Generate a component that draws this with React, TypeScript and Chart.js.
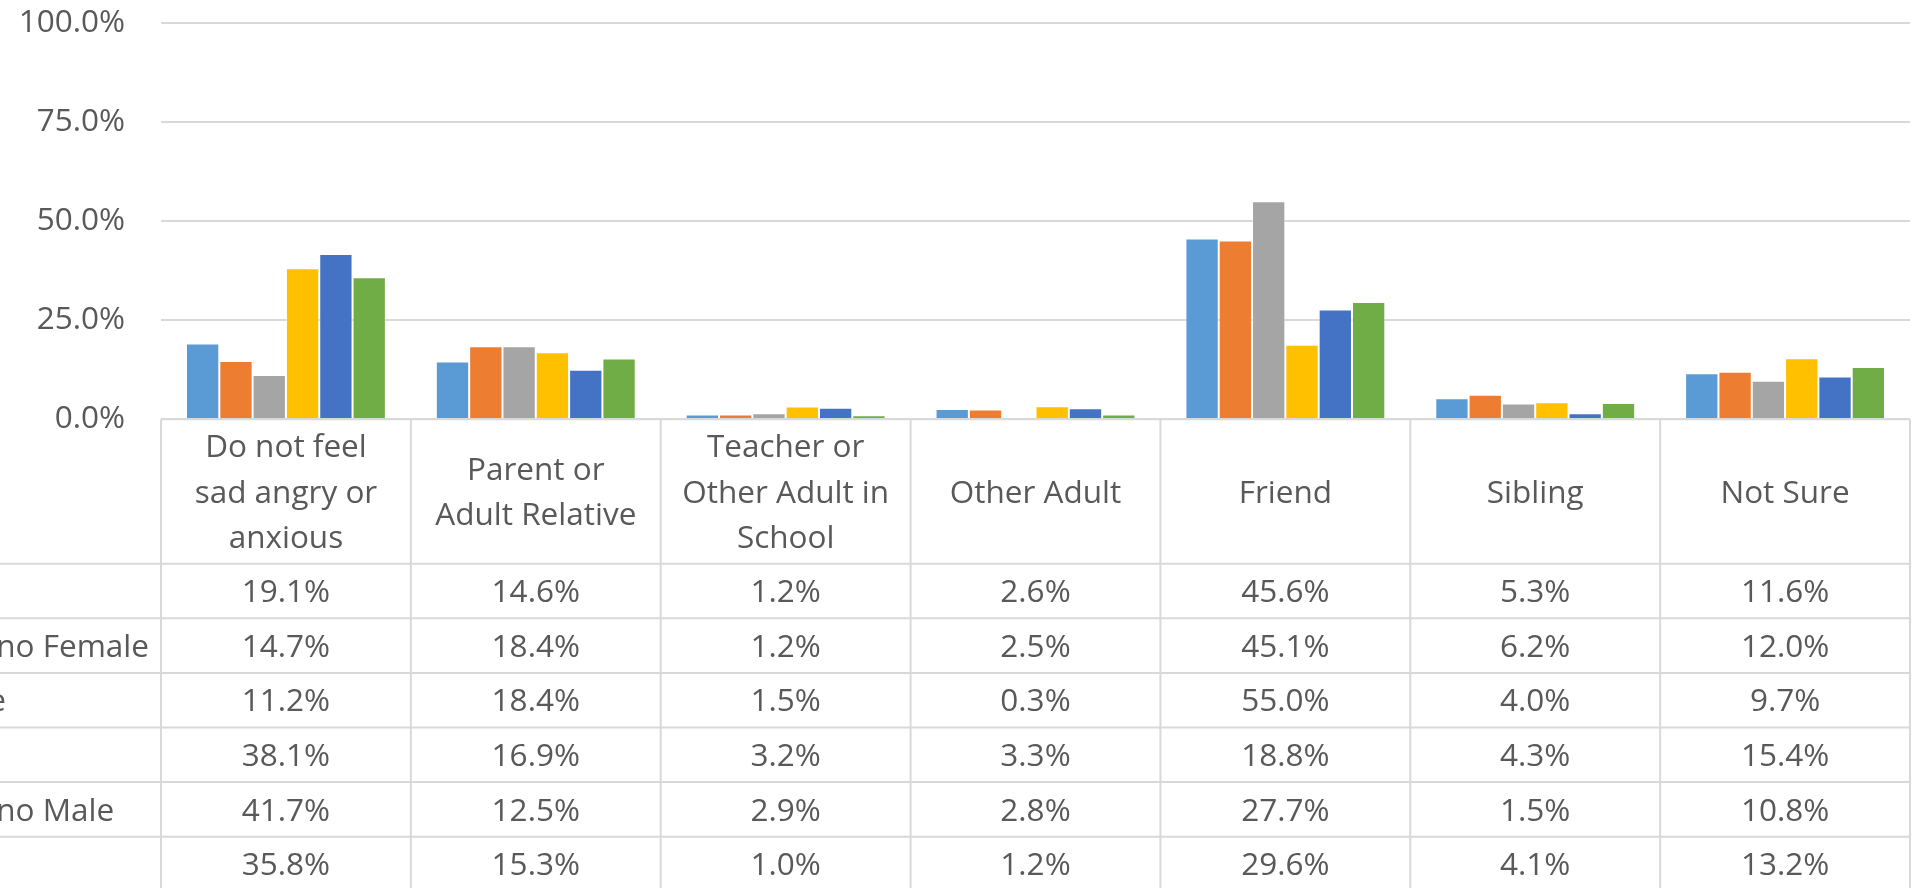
import React, { useEffect, useRef } from "react";
import { Chart, registerables } from "chart.js";

Chart.register(...registerables);

const categories: string[][] = [
  ["Do not feel", "sad angry or", "anxious"],
  ["Parent or", "Adult Relative"],
  ["Teacher or", "Other Adult in", "School"],
  ["Other Adult"],
  ["Friend"],
  ["Sibling"],
  ["Not Sure"],
];

const seriesNames = [
  "Black Female",
  "Hispanic/Latino Female",
  "White Female",
  "Black Male",
  "Hispanic/Latino Male",
  "White Male",
];

const blackFemale = [19.1, 14.6, 1.2, 2.6, 45.6, 5.3, 11.6];
const hispanicFemale = [14.7, 18.4, 1.2, 2.5, 45.1, 6.2, 12.0];
const whiteFemale = [11.2, 18.4, 1.5, 0.3, 55.0, 4.0, 9.7];
const blackMale = [38.1, 16.9, 3.2, 3.3, 18.8, 4.3, 15.4];
const hispanicMale = [41.7, 12.5, 2.9, 2.8, 27.7, 1.5, 10.8];
const whiteMale = [35.8, 15.3, 1.0, 1.2, 29.6, 4.1, 13.2];

const seriesValues = [blackFemale, hispanicFemale, whiteFemale, blackMale, hispanicMale, whiteMale];
const seriesColors = ["#5B9BD5", "#ED7D31", "#A5A5A5", "#FFC000", "#4472C4", "#70AD47"];

const yMin = 0;
const yMax = 100;
const yStep = 25;

const FONT_FAMILY = "'Open Sans', sans-serif";
const FONT_SIZE = 31.5;
const TEXT_COLOR = "#595959";
const LINE_COLOR = "#d9d9d9";
const HEADER_H = 144.4;
const ROW_H = 54.6;
const LINE_H = 45.5;

const fmt = (v: number) => v.toFixed(1) + "%";

const tablePlugin = {
  id: "dataTable",
  afterDraw(chart: any) {
    const { ctx, chartArea } = chart;
    const { left, right, bottom } = chartArea;
    const xs = chart.scales.x;
    const n = categories.length;
    const colW = (right - left) / n;
    const H = chart.height;
    const capH = 0.714 * FONT_SIZE;

    ctx.save();
    ctx.strokeStyle = LINE_COLOR;
    ctx.lineWidth = 2;
    ctx.beginPath();
    ctx.moveTo(left, bottom);
    ctx.lineTo(right, bottom);
    ctx.stroke();
    for (let r = 0; r <= seriesNames.length; r++) {
      const y = bottom + HEADER_H + r * ROW_H;
      ctx.beginPath();
      ctx.moveTo(0, y);
      ctx.lineTo(right, y);
      ctx.stroke();
    }
    for (let i = 0; i <= n; i++) {
      const x = left + i * colW;
      ctx.beginPath();
      ctx.moveTo(x, bottom);
      ctx.lineTo(x, H);
      ctx.stroke();
    }

    ctx.fillStyle = TEXT_COLOR;
    ctx.font = `${FONT_SIZE}px ${FONT_FAMILY}`;
    ctx.textBaseline = "alphabetic";
    ctx.textAlign = "center";

    const yc = bottom + HEADER_H / 2;
    categories.forEach((lines, i) => {
      const cx = xs.getPixelForValue(i);
      const m = lines.length;
      lines.forEach((line, j) => {
        const y = yc + (j - (m - 1) / 2) * LINE_H + capH / 2;
        ctx.fillText(line, cx, y);
      });
    });

    seriesValues.forEach((vals, r) => {
      const y = bottom + HEADER_H + r * ROW_H + ROW_H / 2 + capH / 2;
      vals.forEach((v, i) => {
        ctx.fillText(fmt(v), xs.getPixelForValue(i), y);
      });
    });

    ctx.textAlign = "left";
    const maxW = Math.max(...seriesNames.map((s) => ctx.measureText(s).width));
    const x0 = left - 12 - maxW;
    seriesNames.forEach((name, r) => {
      const y = bottom + HEADER_H + r * ROW_H + ROW_H / 2 + capH / 2;
      ctx.fillText(name, x0, y);
    });
    ctx.restore();
  },
};

export default function App() {
  const ref = useRef<HTMLCanvasElement | null>(null);

  useEffect(() => {
    if (!ref.current) return;
    const chart = new Chart(ref.current, {
      type: "bar",
      data: {
        labels: categories.map((c) => c.join(" ")),
        datasets: seriesNames.map((name, k) => ({
          label: name,
          data: seriesValues[k],
          backgroundColor: seriesColors[k],
          borderColor: "rgba(255,255,255,0.5)",
          borderWidth: 1,
          categoryPercentage: 0.8,
          barPercentage: 1,
        })),
      },
      options: {
        responsive: false,
        animation: false,
        devicePixelRatio: 1,
        layout: { padding: { top: 22.7, bottom: 468.7, left: 0, right: 8 } },
        plugins: {
          legend: { display: false },
          tooltip: { enabled: false },
          title: { display: false },
        },
        scales: {
          x: { display: false, offset: true },
          y: {
            min: yMin,
            max: yMax,
            ticks: {
              stepSize: yStep,
              padding: 0,
              color: TEXT_COLOR,
              font: { family: FONT_FAMILY, size: FONT_SIZE },
              callback: (v: any) => fmt(Number(v)),
            },
            grid: {
              color: LINE_COLOR,
              lineWidth: 2,
              drawTicks: true,
              tickLength: 36,
              tickColor: "rgba(0,0,0,0)",
            },
            border: { display: false },
            afterFit: (s: any) => {
              s.width = 161;
            },
          },
        },
      },
      plugins: [tablePlugin],
    });
    return () => chart.destroy();
  }, []);

  return (
    <div style={{ position: "fixed", left: 0, top: 0, width: 1918, height: 888, background: "#fff" }}>
      <canvas ref={ref} width={1918} height={888} style={{ display: "block", width: 1918, height: 888 }} />
    </div>
  );
}
